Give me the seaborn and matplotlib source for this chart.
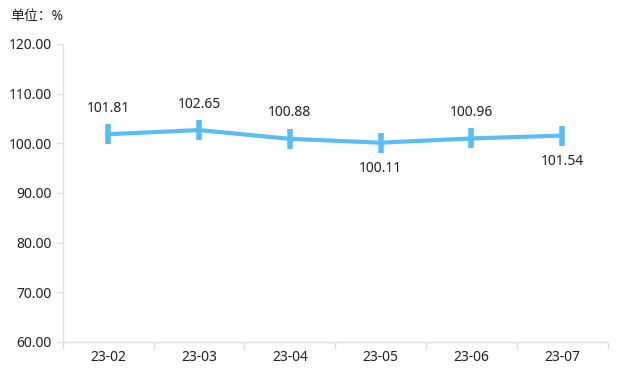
import numpy as np
import pandas as pd
import matplotlib
matplotlib.use('Agg')
import matplotlib.pyplot as plt
import seaborn as sns
from matplotlib.ticker import FixedLocator

months = ['23-02', '23-03', '23-04', '23-05', '23-06', '23-07']
values = [101.81, 102.65, 100.88, 100.11, 100.96, 101.54]
label_above = [True, True, True, False, True, False]
yticks = [60, 70, 80, 90, 100, 110, 120]

sns.set_style('white')
plt.rcParams['font.family'] = ['Noto Sans', 'Noto Sans CJK SC', 'DejaVu Sans']

df = pd.DataFrame({'month': months, 'value': values})

fig = plt.figure(figsize=(6.22, 3.72), dpi=100)
ax = fig.add_axes([0.101, 0.081, 0.876, 0.801])

line_col = '#5bbdf5'
sns.lineplot(data=df, x='month', y='value', ax=ax, color=line_col, linewidth=3,
             marker='|', markersize=14, markeredgewidth=4,
             markeredgecolor=line_col, markerfacecolor=line_col, sort=False)

for i, (v, up) in enumerate(zip(values, label_above)):
    ax.annotate(f'{v:.2f}', (i, v), xytext=(0, 26 if up else -26),
                textcoords='offset pixels',
                ha='center', va='center', fontsize=10, color='#222222')

ax.set_xlim(-0.5, len(months) - 0.5)
ax.set_ylim(60, 120)
ax.set_yticks(yticks)
ax.set_yticklabels([f'{t:.2f}' for t in yticks])
ax.set_xticks(range(len(months)))
ax.set_xticklabels(months)
ax.xaxis.set_minor_locator(FixedLocator(np.arange(-0.5, len(months), 1.0)))

ax.set_xlabel('')
ax.set_ylabel('')
for s in ['top', 'right']:
    ax.spines[s].set_visible(False)
for s in ['left', 'bottom']:
    ax.spines[s].set_color('#e0e0e0')
    ax.spines[s].set_linewidth(1)

ax.tick_params(axis='y', which='major', length=5, width=1, color='#e0e0e0',
               labelsize=10, labelcolor='#222222', pad=3, left=True)
ax.tick_params(axis='x', which='major', length=0, labelsize=10,
               labelcolor='#222222', pad=6)
ax.tick_params(axis='x', which='minor', length=5, width=1, color='#e0e0e0', bottom=True)

fig.text(0.016, 0.955, '单位：%', fontsize=10, color='#222222', ha='left', va='center')

fig.savefig('out.png', dpi=100)
